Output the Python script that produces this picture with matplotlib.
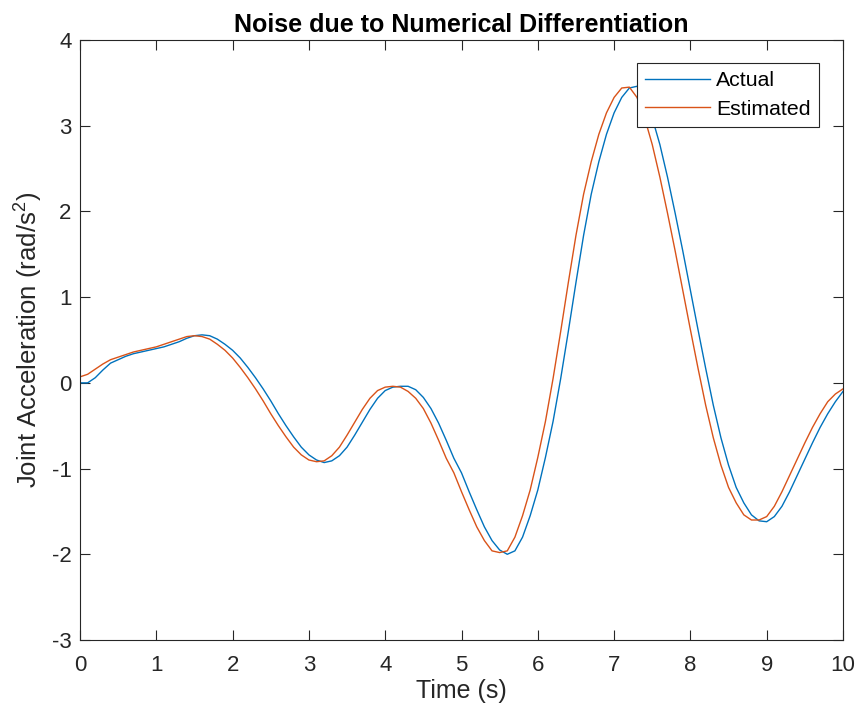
import numpy as np
import matplotlib
matplotlib.use("Agg")
import matplotlib.pyplot as plt

# sample times (s), 0.1 s step
time = np.arange(101) * 0.1

# joint acceleration from the model (rad/s^2)
actual = [
    0.00, 0.00, 0.06, 0.15, 0.23, 0.27, 0.31, 0.34, 0.36, 0.38,
    0.40, 0.42, 0.45, 0.48, 0.52, 0.55, 0.56, 0.55, 0.51, 0.45,
    0.38, 0.29, 0.18, 0.06, -0.07, -0.21, -0.36, -0.50, -0.63, -0.75,
    -0.84, -0.90, -0.93, -0.91, -0.85, -0.75, -0.61, -0.46, -0.31, -0.18,
    -0.09, -0.05, -0.04, -0.04, -0.08, -0.17, -0.30, -0.47, -0.67, -0.88,
    -1.05, -1.27, -1.48, -1.68, -1.84, -1.95, -2.00, -1.96, -1.80, -1.55,
    -1.25, -0.87, -0.45, 0.05, 0.60, 1.17, 1.72, 2.20, 2.58, 2.90,
    3.15, 3.33, 3.44, 3.46, 3.33, 3.09, 2.78, 2.40, 1.98, 1.54,
    1.08, 0.62, 0.17, -0.26, -0.64, -0.96, -1.22, -1.40, -1.54, -1.61,
    -1.62, -1.56, -1.44, -1.27, -1.08, -0.89, -0.70, -0.52, -0.36, -0.22,
    -0.10,
]

# acceleration estimated by differentiating the measured velocity
estimated = [
    0.07, 0.10, 0.16, 0.22, 0.27, 0.30, 0.33, 0.36, 0.38, 0.40,
    0.42, 0.45, 0.48, 0.51, 0.54, 0.55, 0.54, 0.51, 0.45, 0.38,
    0.29, 0.18, 0.06, -0.07, -0.21, -0.36, -0.50, -0.63, -0.75, -0.84,
    -0.90, -0.92, -0.91, -0.85, -0.75, -0.61, -0.46, -0.31, -0.18, -0.09,
    -0.05, -0.04, -0.05, -0.10, -0.18, -0.30, -0.47, -0.67, -0.88, -1.05,
    -1.27, -1.48, -1.68, -1.84, -1.96, -1.98, -1.96, -1.80, -1.55, -1.25,
    -0.87, -0.45, 0.05, 0.60, 1.17, 1.72, 2.20, 2.58, 2.90, 3.15,
    3.33, 3.44, 3.45, 3.33, 3.09, 2.78, 2.40, 1.98, 1.54, 1.08,
    0.62, 0.17, -0.26, -0.64, -0.96, -1.22, -1.40, -1.54, -1.60, -1.60,
    -1.56, -1.44, -1.27, -1.08, -0.89, -0.70, -0.52, -0.36, -0.22, -0.13,
    -0.07,
]

plt.rcParams['font.family'] = ['Liberation Sans', 'DejaVu Sans']
plt.rcParams['axes.unicode_minus'] = False
plt.rcParams['mathtext.fontset'] = 'custom'
plt.rcParams['mathtext.rm'] = 'Liberation Sans'
ink = '#262626'

fig = plt.figure(figsize=(8.58, 7.17), dpi=100)
ax = fig.add_axes([80 / 858, 77 / 717, 763 / 858, 600 / 717])

ax.plot(time, actual, color='#0072BD', lw=1.0, label='Actual')
ax.plot(time, estimated, color='#D95319', lw=1.0, label='Estimated')

ax.set_xlim(0, 10)
ax.set_ylim(-3, 4)
ax.set_xticks(range(0, 11))
ax.set_yticks(range(-3, 5))
ax.tick_params(direction='in', top=True, right=True, length=7, width=0.8,
               colors=ink, labelsize=16)
ax.tick_params(axis='x', pad=11)
ax.tick_params(axis='y', pad=6)
for s in ax.spines.values():
    s.set_color(ink)
    s.set_linewidth(0.8)

ax.set_xlabel('Time (s)', fontsize=18, color=ink, labelpad=2)
ax.set_ylabel('Joint Acceleration (rad/s$\\mathregular{^2}$)', fontsize=18.5,
              color=ink, labelpad=5)
ax.set_title('Noise due to Numerical Differentiation', fontsize=18,
             fontweight='bold', pad=6)

leg = ax.legend(loc='upper right', bbox_to_anchor=(819 / 858, 654 / 717),
                bbox_transform=fig.transFigure, fontsize=15.3, fancybox=False,
                framealpha=1, edgecolor=ink, handlelength=3.05,
                borderpad=0.38, labelspacing=0.45, handletextpad=0.3,
                borderaxespad=0)
leg.get_frame().set_linewidth(0.8)

fig.savefig('out.png', dpi=100)
